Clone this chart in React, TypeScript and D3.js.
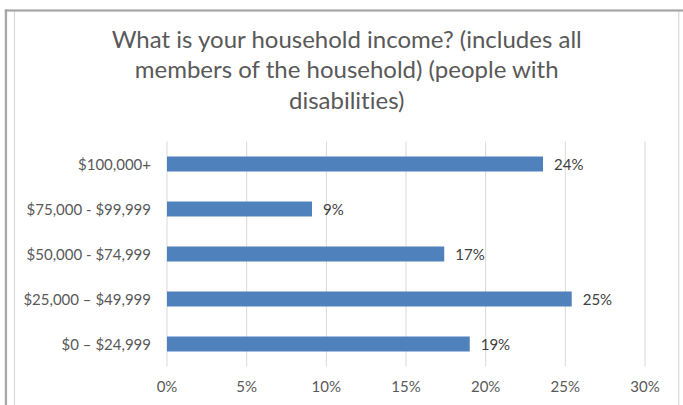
import React from "react";
import * as d3 from "d3";

const titleLines = [
  "What is your household income? (includes all",
  "members of the household) (people with",
  "disabilities)",
];
const categories = [
  "$100,000+",
  "$75,000 - $99,999",
  "$50,000 - $74,999",
  "$25,000 – $49,999",
  "$0 – $24,999",
];
const values = [0.236, 0.091, 0.174, 0.254, 0.19];
const xTicks = [0, 0.05, 0.1, 0.15, 0.2, 0.25, 0.3];

const W = 683;
const H = 405;
const FONT = "Lato, 'Open Sans', sans-serif";
const TEXT_STYLE = { fontVariantLigatures: "none" as const };

export default function App() {
  const x = d3.scaleLinear().domain([0, 0.3]).range([167, 645]);
  const y = d3
    .scaleBand<string>()
    .domain(categories)
    .range([141.5, 366.5])
    .paddingInner(2 / 3)
    .paddingOuter(1 / 3);
  const pct = d3.format(".0%");

  return (
    <div style={{ position: "absolute", left: 0, top: 0 }}>
      <svg width={W} height={H} style={{ display: "block" }}>
        <rect x={0} y={0} width={W} height={H} fill="#ffffff" />
        {/* chart area border */}
        <line x1={14.5} y1={11} x2={14.5} y2={H} stroke="#d9d9d9" strokeWidth={1.2} />
        <line x1={678.8} y1={11} x2={678.8} y2={H} stroke="#d9d9d9" strokeWidth={1.2} />
        {/* outer dark border */}
        <rect x={4.8} y={9.4} width={W - 4.8} height={2.2} fill="#a6a6a6" />
        <rect x={4.8} y={9.4} width={2.3} height={H - 9.4} fill="#a6a6a6" />

        {/* title */}
        {titleLines.map((t, i) => (
          <text
            key={i}
            x={346.7}
            y={47.5 + i * 30.8}
            textAnchor="middle"
            fontFamily={FONT}
            fontSize={24}
            fill="#595959"
            style={TEXT_STYLE}
          >
            {t}
          </text>
        ))}

        {/* gridlines */}
        {xTicks.map((t) => (
          <line
            key={t}
            x1={x(t)}
            x2={x(t)}
            y1={141.5}
            y2={366.5}
            stroke="#d9d9d9"
            strokeWidth={1}
          />
        ))}

        {/* bars */}
        {categories.map((c, i) => (
          <rect
            key={c}
            x={x(0)}
            y={y(c)}
            width={x(values[i]) - x(0)}
            height={y.bandwidth()}
            fill="#4f81bd"
          />
        ))}

        {/* data labels */}
        {categories.map((c, i) => (
          <text
            key={c}
            x={x(values[i]) + 11}
            y={(y(c) as number) + y.bandwidth() / 2 + 5.5}
            fontFamily={FONT}
            fontSize={15}
            fill="#404040"
            style={TEXT_STYLE}
          >
            {pct(Math.round(values[i] * 100) / 100)}
          </text>
        ))}

        {/* category labels */}
        {categories.map((c) => (
          <text
            key={c}
            x={151}
            y={(y(c) as number) + y.bandwidth() / 2 + 5.5}
            textAnchor="end"
            fontFamily={FONT}
            fontSize={15}
            fill="#595959"
            style={TEXT_STYLE}
          >
            {c}
          </text>
        ))}

        {/* x tick labels */}
        {xTicks.map((t) => (
          <text
            key={t}
            x={x(t)}
            y={392}
            textAnchor="middle"
            fontFamily={FONT}
            fontSize={15}
            fill="#595959"
            style={TEXT_STYLE}
          >
            {pct(t)}
          </text>
        ))}
      </svg>
    </div>
  );
}
